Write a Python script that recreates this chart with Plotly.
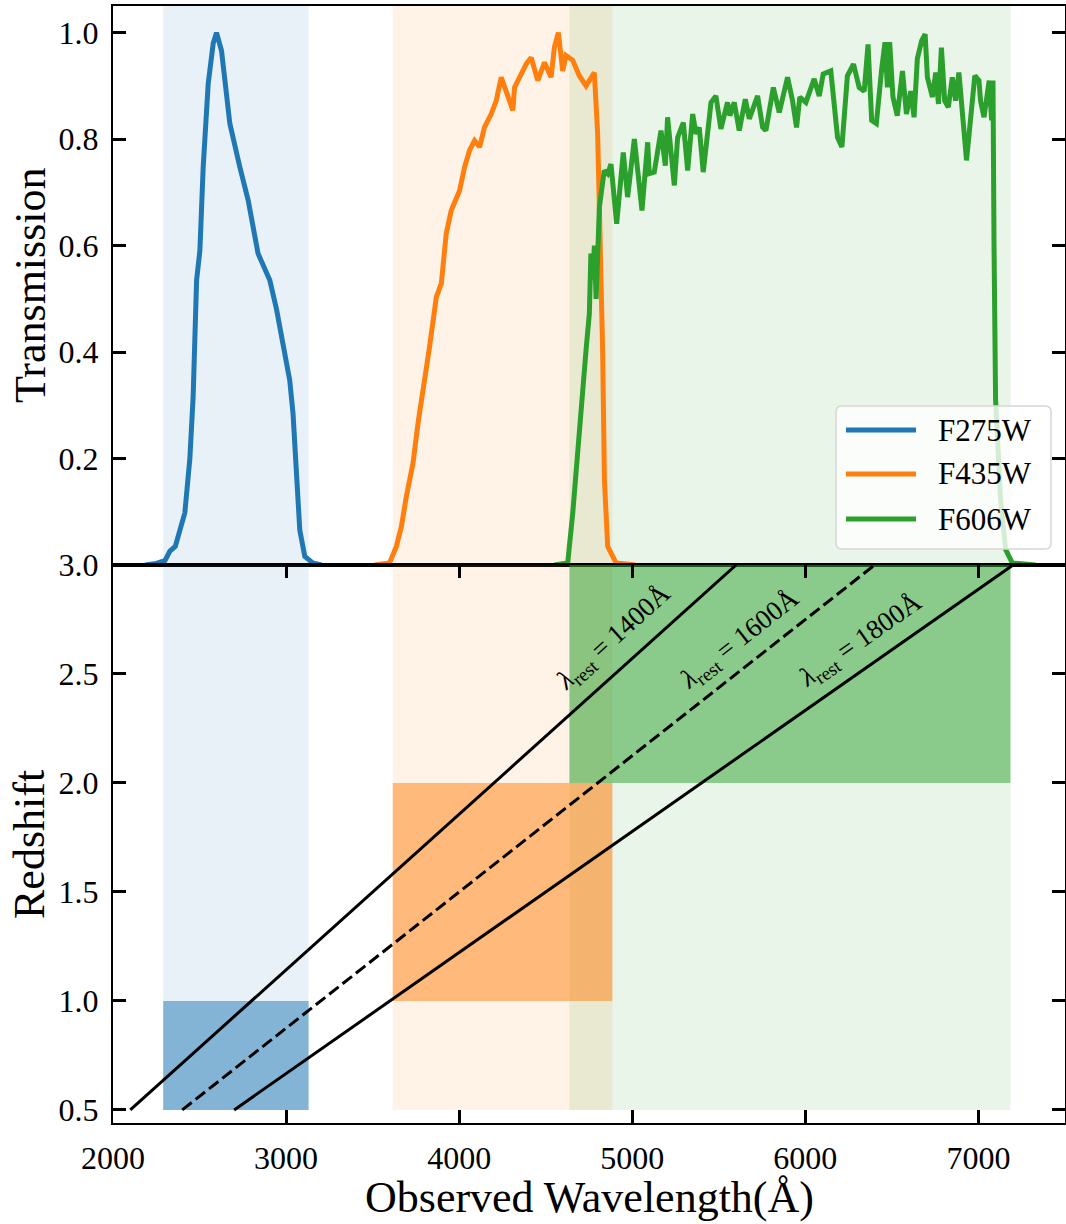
import plotly.graph_objects as go

# ---- Filter transmission curves (normalised to peak = 1) ----
f275w_wave = [2185, 2250, 2300, 2329, 2360, 2387, 2415, 2444, 2463, 2483, 2502, 2521,
              2550, 2579, 2598, 2627, 2656, 2675, 2733, 2781, 2838, 2870, 2906, 2945,
              2992, 3021, 3040, 3060, 3079, 3108, 3154, 3204]
f275w_trans = [0.0, 0.003, 0.008, 0.026, 0.035, 0.066, 0.098, 0.20, 0.316, 0.535, 0.591, 0.747,
               0.904, 0.98, 1.0, 0.966, 0.872, 0.829, 0.747, 0.685, 0.585, 0.56, 0.535, 0.48,
               0.40, 0.347, 0.285, 0.16, 0.066, 0.016, 0.004, 0.0]

f435w_wave = [3512, 3598, 3637, 3666, 3695, 3733, 3762, 3800, 3829, 3868, 3897, 3925,
              3954, 4002, 4031, 4060, 4089, 4118, 4146, 4185, 4214, 4243, 4272, 4310,
              4320, 4358, 4387, 4416, 4454, 4493, 4531, 4550, 4573, 4598, 4617, 4656,
              4694, 4733, 4781, 4800, 4815, 4829, 4839, 4858, 4906, 5021]
f435w_trans = [0.0, 0.004, 0.035, 0.072, 0.129, 0.191, 0.266, 0.341, 0.41, 0.503, 0.529, 0.622,
               0.666, 0.703, 0.747, 0.779, 0.797, 0.785, 0.822, 0.847, 0.872, 0.916, 0.89, 0.854,
               0.897, 0.922, 0.941, 0.953, 0.91, 0.944, 0.916, 0.972, 1.0, 0.928, 0.957, 0.948,
               0.919, 0.90, 0.925, 0.81, 0.60, 0.40, 0.16, 0.035, 0.004, 0.0]

f606w_wave = [4550, 4627, 4656, 4685, 4694, 4714, 4733, 4752, 4761, 4771, 4781, 4791,
              4810, 4838, 4858, 4877, 4910, 4948, 4973, 5012, 5056, 5089, 5098, 5127,
              5166, 5191, 5204, 5243, 5262, 5295, 5320, 5349, 5368, 5387, 5410, 5455,
              5483, 5512, 5550, 5564, 5589, 5618, 5653, 5676, 5724, 5753, 5772, 5815,
              5849, 5897, 5926, 5949, 5968, 6003, 6051, 6080, 6103, 6147, 6186, 6211,
              6243, 6278, 6311, 6340, 6362, 6383, 6410, 6441, 6460, 6474, 6487, 6506,
              6531, 6561, 6584, 6609, 6628, 6647, 6672, 6692, 6705, 6734, 6753, 6769,
              6786, 6805, 6826, 6849, 6868, 6887, 6906, 6919, 6931, 6948, 6979, 7003,
              7012, 7032, 7047, 7062, 7076, 7084, 7090, 7099, 7128, 7157, 7195, 7330]
f606w_trans = [0.0, 0.004, 0.097, 0.222, 0.266, 0.335, 0.404, 0.472, 0.585, 0.535, 0.60, 0.50,
               0.672, 0.741, 0.735, 0.753, 0.641, 0.775, 0.691, 0.80, 0.666, 0.794, 0.735, 0.738,
               0.816, 0.75, 0.841, 0.713, 0.803, 0.831, 0.741, 0.847, 0.81, 0.822, 0.738, 0.869,
               0.881, 0.819, 0.869, 0.844, 0.869, 0.816, 0.875, 0.838, 0.881, 0.822, 0.816, 0.897,
               0.85, 0.916, 0.872, 0.822, 0.879, 0.869, 0.913, 0.881, 0.922, 0.928, 0.803, 0.785,
               0.919, 0.941, 0.897, 0.89, 0.978, 0.835, 0.829, 0.932, 0.982, 0.897, 0.982, 0.879,
               0.844, 0.928, 0.847, 0.89, 0.841, 0.951, 0.985, 0.997, 0.916, 0.879, 0.925, 0.866,
               0.972, 0.872, 0.86, 0.916, 0.872, 0.925, 0.86, 0.803, 0.76, 0.816, 0.919, 0.91,
               0.872, 0.841, 0.875, 0.91, 0.835, 0.91, 0.60, 0.31, 0.122, 0.029, 0.004, 0.0]

filter_names = ["F275W", "F435W", "F606W"]
filter_waves = [f275w_wave, f435w_wave, f606w_wave]
filter_trans = [f275w_trans, f435w_trans, f606w_trans]
filter_rgb = [(31, 119, 180), (255, 127, 14), (44, 160, 44)]

# Wavelength coverage of each filter and the redshift interval it selects
band_lo = [2290, 3616, 4637]
band_hi = [3130, 4885, 7185]
z_lo = [0.5, 1.0, 2.0]
z_hi = [1.0, 2.0, 3.0]

# Rest-frame UV wavelengths tracked through redshift
rest_wave = [1400, 1600, 1800]
rest_dash = ["solid", "12px,5px", "solid"]
z_grid = [0.5, 3.0]

# Tick labels
x_ticks = [2000, 3000, 4000, 5000, 6000, 7000]
trans_ticks = [0.0, 0.2, 0.4, 0.6, 0.8, 1.0]
trans_ticktext = ["", "0.2", "0.4", "0.6", "0.8", "1.0"]
z_ticks = [0.5, 1.0, 1.5, 2.0, 2.5, 3.0]
z_ticktext = ["0.5", "1.0", "1.5", "2.0", "2.5", "3.0"]

FONT = "Liberation Serif"
W, H = 1066, 1224
ML, MR, MT, MB = 113, 1, 6, 101
PW, PH = W - ML - MR, H - MT - MB
split = 558 / PH


def rgba(c, a):
    return f"rgba({c[0]},{c[1]},{c[2]},{a})"


def px_to_paper(px, py):
    return (px - ML) / PW, (H - MB - py) / PH


fig = go.Figure()

# Upper panel: transmission curves
for name, wv, tr, c in zip(filter_names, filter_waves, filter_trans, filter_rgb):
    fig.add_trace(go.Scatter(x=wv, y=tr, mode="lines", name=name,
                             line=dict(color=rgba(c, 1), width=5),
                             xaxis="x", yaxis="y", showlegend=False))

# Lower panel: observed wavelength of fixed rest-frame lines vs redshift
for lam, dash in zip(rest_wave, rest_dash):
    fig.add_trace(go.Scatter(x=[lam * (1 + z) for z in z_grid], y=z_grid, mode="lines",
                             line=dict(color="black", width=3, dash=dash),
                             xaxis="x2", yaxis="y2", showlegend=False))

shapes = []
for lo, hi, zl, zh, c in zip(band_lo, band_hi, z_lo, z_hi, filter_rgb):
    shapes.append(dict(type="rect", xref="x", yref="y domain", x0=lo, x1=hi, y0=0, y1=1,
                       fillcolor=rgba(c, 0.1), line=dict(width=0), layer="below"))
    shapes.append(dict(type="rect", xref="x2", yref="y2", x0=lo, x1=hi, y0=z_grid[0], y1=z_grid[-1],
                       fillcolor=rgba(c, 0.1), line=dict(width=0), layer="below"))
for lo, hi, zl, zh, c in zip(band_lo, band_hi, z_lo, z_hi, filter_rgb):
    shapes.append(dict(type="rect", xref="x2", yref="y2", x0=lo, x1=hi, y0=zl, y1=zh,
                       fillcolor=rgba(c, 0.5), line=dict(width=0), layer="below"))

# Legend box with rounded corners
x0, y0 = px_to_paper(836, 549)
x1, y1 = px_to_paper(1051, 406)
rx, ry = 6 / PW, 6 / PH
path = (f"M {x0+rx},{y0} L {x1-rx},{y0} Q {x1},{y0} {x1},{y0+ry} L {x1},{y1-ry} "
        f"Q {x1},{y1} {x1-rx},{y1} L {x0+rx},{y1} Q {x0},{y1} {x0},{y1-ry} "
        f"L {x0},{y0+ry} Q {x0},{y0} {x0+rx},{y0} Z")
shapes.append(dict(type="path", xref="paper", yref="paper", path=path,
                   fillcolor="rgba(255,255,255,0.8)", line=dict(color="rgb(214,214,214)", width=1.5),
                   layer="above"))

annotations = []
for name, c, py in zip(filter_names, filter_rgb, [430, 474, 519]):
    lx0, ly = px_to_paper(846, py)
    lx1, _ = px_to_paper(916, py)
    shapes.append(dict(type="line", xref="paper", yref="paper", x0=lx0, x1=lx1, y0=ly, y1=ly,
                       line=dict(color=rgba(c, 1), width=5), layer="above"))
    tx, _ = px_to_paper(936, py)
    annotations.append(dict(xref="paper", yref="paper", x=tx, y=ly, text=name, showarrow=False,
                            xanchor="left", yanchor="middle", font=dict(family=FONT, size=31, color="black")))

# Rest-wavelength labels along the lines
label_x = [4897, 5624, 6322]
label_y = [2.665, 2.656, 2.65]
label_angle = [-41.9, -38.2, -34.9]
for lam, lxv, lyv, ang in zip(rest_wave, label_x, label_y, label_angle):
    annotations.append(dict(xref="x2", yref="y2", x=lxv, y=lyv,
                            text=f"<i>λ</i><sub>rest</sub> = {lam}Å", showarrow=False,
                            textangle=ang, xanchor="center", yanchor="middle",
                            font=dict(family=FONT, size=27, color="black")))

# Axis titles
tx, ty = px_to_paper(30, 285)
annotations.append(dict(xref="paper", yref="paper", x=tx, y=ty, text="Transmission", showarrow=False,
                        textangle=-90, xanchor="center", yanchor="middle",
                        font=dict(family=FONT, size=44, color="black")))
tx, ty = px_to_paper(30, 845)
annotations.append(dict(xref="paper", yref="paper", x=tx, y=ty, text="Redshift", showarrow=False,
                        textangle=-90, xanchor="center", yanchor="middle",
                        font=dict(family=FONT, size=44, color="black")))
tx, ty = px_to_paper(589, 1197)
annotations.append(dict(xref="paper", yref="paper", x=tx, y=ty, text="Observed Wavelength(Å)",
                        showarrow=False, xanchor="center", yanchor="middle",
                        font=dict(family=FONT, size=44, color="black")))

axis_common = dict(showgrid=False, zeroline=False, showline=True, linecolor="black", linewidth=2,
                   tickfont=dict(family=FONT, size=32, color="black"), ticklen=13, tickwidth=2.5,
                   tickcolor="black")

fig.update_layout(
    width=W, height=H,
    margin=dict(l=ML, r=MR, t=MT, b=MB, autoexpand=False),
    paper_bgcolor="white", plot_bgcolor="white",
    showlegend=False,
    xaxis=dict(axis_common, domain=[0, 1], anchor="y", range=[2000, 7500], showticklabels=False,
               ticks="", mirror=True, matches="x2"),
    yaxis=dict(axis_common, domain=[split, 1], anchor="x", range=[0, 1.05], tickvals=trans_ticks,
               ticktext=trans_ticktext, ticks="inside", mirror="ticks", ticklabelstandoff=6),
    xaxis2=dict(axis_common, domain=[0, 1], anchor="y2", range=[2000, 7500], tickvals=x_ticks,
                ticks="inside", mirror="ticks", ticklabelstandoff=6),
    yaxis2=dict(axis_common, domain=[0, split], anchor="x2", range=[0.44, 3.0], tickvals=z_ticks,
                ticktext=z_ticktext, ticks="inside", mirror="ticks", ticklabelstandoff=6),
    shapes=shapes,
    annotations=annotations,
)

fig.write_html("out.html")
